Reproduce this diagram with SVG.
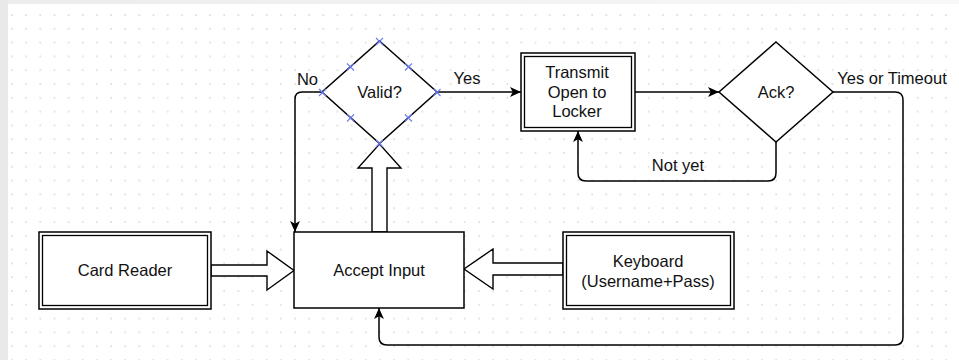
<svg xmlns="http://www.w3.org/2000/svg" width="959" height="360" viewBox="0 0 959 360">
  <defs>
    <pattern id="grid" x="11" y="14" width="14.15" height="13.8" patternUnits="userSpaceOnUse">
      <circle cx="1" cy="1" r="0.8" fill="#c4c4c4"/>
    </pattern>
    <linearGradient id="topband" x1="0" y1="0" x2="1" y2="0">
      <stop offset="0" stop-color="#ececec"/>
      <stop offset="1" stop-color="#f8f8f8"/>
    </linearGradient>
    <marker id="arrow" markerUnits="userSpaceOnUse" viewBox="0 0 10 9" markerWidth="11" markerHeight="10" refX="10" refY="4.5" orient="auto">
      <path d="M0,0 L10,4.5 L0,9 L2.5,4.5 Z" fill="#000"/>
    </marker>
  </defs>
  <style>
    .shape { fill: #fff; stroke: #000; stroke-width: 1.5; }
    .inner { fill: none; stroke: #000; stroke-width: 1.3; }
    .edge { fill: none; stroke: #000; stroke-width: 1.5; marker-end: url(#arrow); }
    .block { fill: #fff; stroke: #000; stroke-width: 1.4; stroke-linejoin: miter; }
    .pt { stroke: #6b7cf2; stroke-width: 1.1; fill: none; }
    text { font-family: "Liberation Sans", Arial, Helvetica, sans-serif; font-size: 16.5px; fill: #111; }
    .c { text-anchor: middle; }
  </style>

  <!-- page background with dotted grid -->
  <rect width="959" height="360" fill="#fff"/>
  <rect x="0" y="0" width="959" height="4" fill="url(#topband)"/>
  <rect x="0" y="0" width="8" height="360" fill="#e9e9e9"/>
  <rect x="8" y="4" width="951" height="356" fill="url(#grid)"/>

  <!-- connectors -->
  <g id="connectors">
    <path class="edge" d="M322,92 H302 Q295,92 295,99 V232"/>
    <path class="edge" d="M437,92 H521"/>
    <path class="edge" d="M635,92 H719"/>
    <path class="edge" d="M776,142 V173 Q776,181 768,181 H586 Q578,181 578,173 V131"/>
    <path class="edge" d="M833,92 H895 Q903,92 903,100 V337 Q903,345 895,345 H387 Q379,345 379,337 V308"/>
    <polygon class="block" points="372,232 372,168 358,168 379.5,144 401,168 387,168 387,232"/>
    <polygon class="block" points="211,265 267,265 267,251 294,270.5 267,290 267,276 211,276"/>
    <polygon class="block" points="563,263 493,263 493,249 464,269 493,289 493,275 563,275"/>
    <text x="307.5" y="85" class="c">No</text>
    <text x="467" y="84" class="c">Yes</text>
    <text x="678" y="171" class="c">Not yet</text>
    <text x="892" y="84" class="c">Yes or Timeout</text>
  </g>

  <!-- Card Reader -->
  <g id="card-reader">
    <rect class="shape" x="39" y="232" width="172" height="77"/>
    <rect class="inner" x="42.5" y="235.5" width="165" height="70"/>
    <text x="125" y="276" class="c">Card Reader</text>
  </g>

  <!-- Accept Input -->
  <g id="accept-input">
    <rect class="shape" x="294" y="232" width="170" height="76"/>
    <text x="379" y="276" class="c">Accept Input</text>
  </g>

  <!-- Keyboard -->
  <g id="keyboard">
    <rect class="shape" x="563" y="232" width="171" height="77"/>
    <rect class="inner" x="566.5" y="235.5" width="164" height="70"/>
    <text x="648" y="267" class="c">Keyboard</text>
    <text x="648" y="287" class="c">(Username+Pass)</text>
  </g>

  <!-- Valid? decision (selected, with handle marks) -->
  <g id="valid">
    <polygon class="shape" points="379.5,41 437,92 379.5,143.5 322,92"/>
    <text x="379.5" y="98" class="c">Valid?</text>
    <path class="pt" d="M376,38 l7,7 m0,-7 l-7,7 M319,89 l7,7 m0,-7 l-7,7 M433.5,89 l7,7 m0,-7 l-7,7 M376,140 l7,7 m0,-7 l-7,7 M347,63.5 l7,7 m0,-7 l-7,7 M405,63.5 l7,7 m0,-7 l-7,7 M347,114.5 l7,7 m0,-7 l-7,7 M405,114.5 l7,7 m0,-7 l-7,7"/>
  </g>

  <!-- Transmit Open to Locker -->
  <g id="transmit">
    <rect class="shape" x="521" y="53" width="114" height="78"/>
    <rect class="inner" x="524.5" y="56.5" width="107" height="71"/>
    <text x="577" y="78" class="c">Transmit</text>
    <text x="577" y="98" class="c">Open to</text>
    <text x="577" y="117" class="c">Locker</text>
  </g>

  <!-- Ack? decision -->
  <g id="ack">
    <polygon class="shape" points="776,42 833,92 776,142 719,92"/>
    <text x="776" y="98" class="c">Ack?</text>
  </g>
</svg>
